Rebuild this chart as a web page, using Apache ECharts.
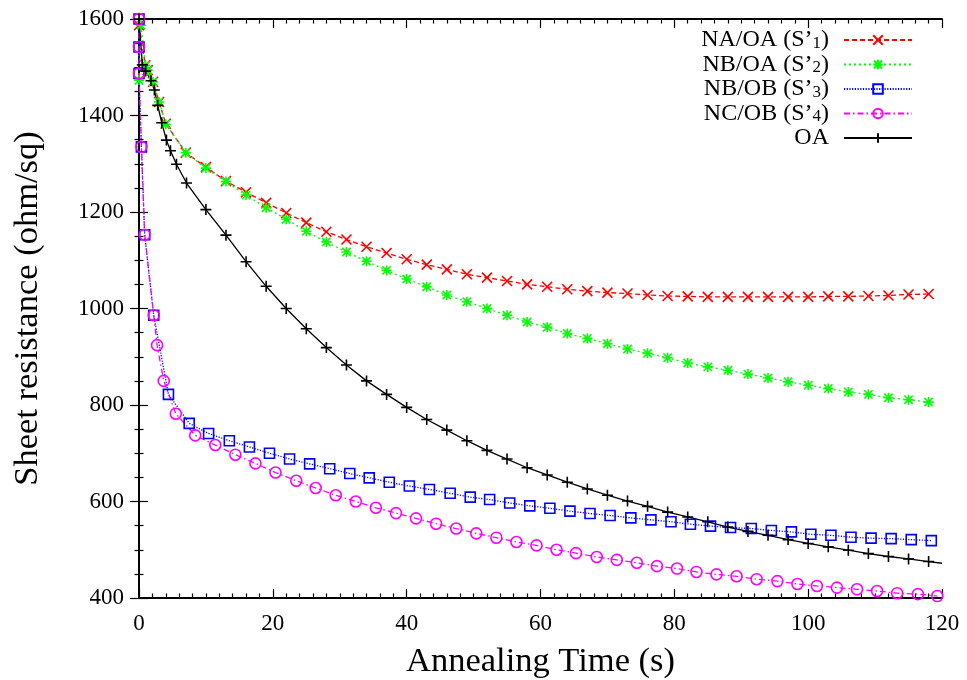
<!DOCTYPE html>
<html>
<head>
<meta charset="utf-8">
<script src="https://cdn.jsdelivr.net/npm/echarts@6/dist/echarts.min.js"></script>
<style>html,body{margin:0;padding:0;background:#fff;}#c{width:967px;height:680px;}</style>
</head>
<body>
<div id="c"></div>
<script>
// ---- data ----
var xTicks = [0, 20, 40, 60, 80, 100, 120];
var yTicks = [400, 600, 800, 1000, 1200, 1400, 1600];
var seriesNames = ['NA/OA (S’1)', 'NB/OA (S’2)', 'NB/OB (S’3)', 'NC/OB (S’4)', 'OA'];

var s1 = [[0,1587],[0.95,1504],[1.3,1494],[2.1,1470],[3,1428],[4,1383],[7,1323],[10,1293],[13,1264],[16,1241],[19,1219],[22,1198],[25,1178],[28,1159],[31,1143],[34,1128],[37,1115],[40,1102],[43,1091],[46,1081],[49,1071],[52,1064],[55,1057],[58,1050],[61,1045],[64,1040],[67,1036],[70,1033],[73,1031],[76,1028],[79,1026],[82,1025],[85,1024],[88,1024],[91,1024],[94,1024],[97,1024],[100,1024],[103,1025],[106,1025],[109,1026],[112,1027],[115,1029],[118,1030]];
var s2 = [[0,1473],[0.3,1587],[0.95,1504],[1.3,1494],[2.1,1470],[3,1428],[4,1382],[7,1323],[10,1291],[13,1263],[16,1235],[19,1209],[22,1185],[25,1160],[28,1138],[31,1117],[34,1098],[37,1079],[40,1061],[43,1045],[46,1028],[49,1014],[52,1000],[55,986],[58,972],[61,961],[64,948],[67,938],[70,927],[73,916],[76,907],[79,898],[82,887],[85,879],[88,872],[91,864],[94,856],[97,848],[100,841],[103,834],[106,827],[109,822],[112,815],[115,811],[118,806]];
var s3 = [[0,1600],[0,1542],[0,1487],[0.36,1335],[0.85,1153],[2.2,986],[4.4,822],[7.5,762],[10.4,741],[13.5,726],[16.5,713],[19.5,700],[22.5,688],[25.5,678],[28.5,668],[31.5,658],[34.4,649],[37.4,640],[40.4,632],[43.4,625],[46.5,617],[49.5,609],[52.4,604],[55.4,597],[58.4,591],[61.4,586],[64.4,580],[67.4,575],[70.4,571],[73.5,566],[76.5,562],[79.5,558],[82.4,553],[85.4,549],[88.4,546],[91.5,544],[94.5,540],[97.5,537],[100.4,532],[103.4,530],[106.4,526],[109.4,524],[112.4,523],[115.4,521],[118.4,519]];
var s4 = [[0,1600],[0,1542],[0,1487],[0.36,1335],[0.85,1153],[2.2,986],[2.7,924],[3.7,850],[5.5,782],[8.4,737],[11.4,717],[14.4,697],[17.4,679],[20.4,660],[23.5,643],[26.4,628],[29.4,613],[32.4,600],[35.4,587],[38.4,576],[41.4,565],[44.4,554],[47.4,544],[50.4,534],[53.4,525],[56.4,516],[59.4,509],[62.4,500],[65.3,493],[68.4,485],[71.4,479],[74.4,473],[77.4,466],[80.4,461],[83.3,454],[86.3,449],[89.3,445],[92.3,439],[95.4,435],[98.4,429],[101.3,425],[104.3,421.5],[107.3,418],[110.3,414.5],[113.3,410],[116.4,408],[119.3,404]];
var oa = [[0,1600],[0.5,1505],[1,1492],[1.8,1472],[2.3,1453],[2.8,1421],[3.4,1385],[4.1,1349],[4.7,1327],[5.6,1299],[7.1,1260],[10,1205],[13,1152],[16,1097],[19,1046],[22,1000],[25,958],[28,919],[31,883],[34,850],[37,822],[40,795],[43,770],[46,748],[49,726],[52,706],[55,688],[58,670],[61,655],[64,640],[67,626],[70,613],[73,601],[76,590],[79,578],[82,568],[85,558],[88,547],[91,538],[94,530],[97,521],[100,513],[103,506],[106,499],[109,492],[112,486],[115,481],[118,475.5]];
var oaEnd = [120, 472];

var FONT = 'Liberation Serif';
var chart = echarts.init(document.getElementById('c'), null, {renderer: 'canvas'});

var symCross = 'path://M0,0L10,10M10,0L0,10';
var symStar = 'path://M0,0L10,10M10,0L0,10M5,-1L5,11M-1,5L11,5';
var symPlus = 'path://M5,0L5,10M0,5L10,5';
var symSquare = 'path://M0,0L10,0L10,10L0,10Z';
var symCircle = 'path://M10,5A5,5,0,1,1,0,5A5,5,0,1,1,10,5Z';

function mk(name, data, color, dash, symbol, size) {
  return {
    name: name, type: 'line', data: data,
    symbol: symbol, symbolSize: size, showAllSymbol: true,
    lineStyle: {color: color, width: 1.3, type: dash},
    itemStyle: {color: 'rgba(0,0,0,0)', borderColor: color, borderWidth: 1.6},
    emphasis: {disabled: true},
    animation: false, clip: true, z: 2
  };
}

var oaData = oa.slice();
oaData.push({value: oaEnd, symbol: 'none'});

var axisCommon = {
  type: 'value',
  axisLine: {show: true, lineStyle: {color: '#000', width: 1.8}},
  axisTick: {show: true, inside: true, length: 9, lineStyle: {color: '#000', width: 1.2}},
  splitLine: {show: false}
};
function minor(n) { return {show: true, splitNumber: n, length: 4.5, lineStyle: {color: '#000', width: 1.2}}; }

chart.setOption({
  backgroundColor: '#fff',
  animation: false,
  grid: {left: 139, right: 25, top: 19, bottom: 82, containLabel: false, outerBoundsMode: 'none'},
  legend: {
    orient: 'vertical', right: 54, top: 28, align: 'right', padding: 0,
    itemWidth: 68, itemHeight: 12, itemGap: 0.5,
    data: seriesNames,
    textStyle: {fontFamily: FONT, fontSize: 24, color: '#000',
      rich: {
        m: {fontFamily: FONT, fontSize: 24, color: '#000', lineHeight: 24, verticalAlign: 'top'},
        sub: {fontFamily: FONT, fontSize: 17, color: '#000', lineHeight: 10, verticalAlign: 'bottom'},
        gap: {width: 10, lineHeight: 24}
      }},
    formatter: function (n) {
      var i = n.indexOf('’');
      if (i < 0) return '{m|' + n + '}{gap| }';
      return '{m|' + n.slice(0, i + 1) + '}{sub|' + n.charAt(i + 1) + '}{m|' + n.slice(i + 2) + '}{gap| }';
    }
  },
  xAxis: [
    Object.assign({}, axisCommon, {
      min: 0, max: 120, interval: 20, minorTick: minor(10),
      axisLabel: {fontFamily: FONT, fontSize: 23, color: '#000', margin: 14,
        formatter: function (v) { return xTicks.indexOf(v) >= 0 ? String(v) : ''; }},
      name: 'Annealing Time (s)', nameLocation: 'middle', nameGap: 46,
      nameTextStyle: {fontFamily: FONT, fontSize: 34.5, color: '#000'}
    }),
    Object.assign({}, axisCommon, {
      position: 'top', min: 0, max: 120, interval: 20, minorTick: minor(10),
      axisLabel: {show: false}
    })
  ],
  yAxis: [
    Object.assign({}, axisCommon, {
      min: 400, max: 1600, interval: 200, minorTick: minor(4),
      axisLabel: {fontFamily: FONT, fontSize: 23, color: '#000', margin: 15,
        formatter: function (v) { return yTicks.indexOf(v) >= 0 ? String(v) : ''; }},
      name: 'Sheet resistance (ohm/sq)', nameLocation: 'middle', nameGap: 94,
      nameTextStyle: {fontFamily: FONT, fontSize: 34.5, color: '#000'}
    }),
    Object.assign({}, axisCommon, {
      position: 'right', min: 400, max: 1600, interval: 200, minorTick: minor(4),
      axisLabel: {show: false}
    })
  ],
  series: [
    mk(seriesNames[0], s1, '#ff0000', [5, 3], symCross, 10),
    mk(seriesNames[1], s2, '#00ff00', [2, 3], symStar, 10),
    mk(seriesNames[2], s3, '#0000ff', [1.2, 1.5], symSquare, 10),
    mk(seriesNames[3], s4, '#ff00ff', [6, 3, 1.5, 3], symCircle, 11),
    mk(seriesNames[4], oaData, '#000000', 'solid', symPlus, 11)
  ]
});
</script>
</body>
</html>
